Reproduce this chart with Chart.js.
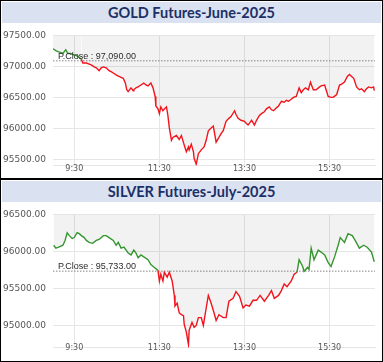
<!DOCTYPE html>
<html>
<head>
<meta charset="utf-8">
<script src="https://cdn.jsdelivr.net/npm/chart.js@4.4.1/dist/chart.umd.min.js"></script>
<style>
  html, body { margin: 0; padding: 0; background: #fff; }
  #wrap { position: absolute; left: 0; top: 0; width: 383px; height: 362px; box-sizing: border-box; border: 1px solid #000; background: #fff; overflow: hidden; }
  .titre { position: absolute; left: 1px; width: 379px; height: 21px; background: #dae1f1; color: #1c2f66;
           font: bold 14.5px Lato, "Open Sans", sans-serif; text-align: center; line-height: 21px; }
  .sep { position: absolute; left: 0; width: 381px; height: 2px; background: #000; }
  .cv { position: absolute; left: 0; width: 381px; }
</style>
</head>
<body>
<div id="wrap">
  <div class="titre" style="top:1px">GOLD Futures-June-2025</div>
  <div class="cv" style="top:22px;height:155px"><canvas id="chartOuro"></canvas></div>
  <div class="sep" style="top:177px"></div>
  <div class="titre" style="top:180px">SILVER Futures-July-2025</div>
  <div class="cv" style="top:201px;height:158px"><canvas id="chartPrata"></canvas></div>
</div>
<script>
// horários em minutos desde 0:00
var tickMinutos = [570, 690, 810, 930];
var tickRotulos = ['9:30', '11:30', '13:30', '15:30'];

// ouro
var ouroTempo = [540, 544, 547, 551, 554, 558, 561, 565, 568, 572, 575, 580, 582, 587, 591, 594, 598, 601, 605, 608,
  611, 615, 619, 622, 626, 630, 633, 636, 639, 642, 644, 646, 650, 653, 654, 657, 660, 664, 668, 671,
  674, 678, 681, 684, 685, 688, 690, 692, 695, 697, 700, 702, 704, 707, 709, 714, 718, 721, 725, 728,
  731, 732, 735, 738, 739, 742, 745, 749, 753, 756, 759, 763, 766, 770, 774, 777, 780, 784, 788, 791,
  796, 798, 801, 805, 810, 812, 815, 820, 824, 827, 831, 834, 838, 841, 845, 848, 851, 855, 858, 862,
  866, 869, 872, 876, 879, 883, 887, 890, 893, 896, 900, 903, 907, 911, 916, 918, 923, 925, 928, 932,
  935, 940, 944, 947, 951, 955, 958, 961, 964, 968, 972, 975, 979, 982, 985, 989, 992, 993];
var ouroPreco = [97285, 97254, 97238, 97223, 97208, 97269, 97208, 97208, 97192, 97177, 97162, 97115, 97054, 97054, 97038, 97023, 96992, 96977, 96931, 96977,
  96992, 96977, 96931, 96915, 96885, 96854, 96838, 96823, 96808, 96731, 96623, 96592, 96654, 96608, 96623, 96654, 96669, 96700, 96731, 96700,
  96685, 96731, 96654, 96515, 96362, 96315, 96238, 96346, 96285, 96315, 96346, 96208, 96008, 95808, 95854, 95885, 95823, 95885, 95731, 95623,
  95700, 95654, 95746, 95623, 95515, 95423, 95592, 95654, 95700, 95808, 95962, 96008, 96038, 95777, 95854, 95915, 95962, 96115, 96162, 96192,
  96285, 96223, 96162, 96131, 96115, 96085, 96054, 96131, 96054, 96131, 96208, 96238, 96269, 96315, 96346, 96300, 96285, 96331, 96362, 96438,
  96423, 96454, 96438, 96469, 96500, 96515, 96654, 96577, 96623, 96654, 96623, 96746, 96623, 96623, 96669, 96685, 96700, 96623, 96515, 96500,
  96500, 96546, 96700, 96715, 96746, 96838, 96869, 96838, 96808, 96669, 96623, 96638, 96592, 96638, 96669, 96654, 96669, 96608];
var ouroFechamento = 97090;
var ouroEixoY = [95400, 97500];
var ouroTicksY = [95500, 96000, 96500, 97000, 97500];

// prata
var prataTempo = [541, 544, 548, 554, 557, 560, 563, 567, 570, 574, 577, 580, 584, 587, 591, 596, 601, 605, 611, 615,
  619, 625, 629, 632, 636, 640, 646, 650, 654, 657, 660, 664, 668, 674, 678, 683, 688, 690, 692, 695,
  697, 701, 704, 708, 711, 712, 715, 718, 721, 724, 725, 728, 731, 732, 736, 739, 742, 745, 749, 752,
  756, 759, 763, 767, 770, 774, 780, 784, 788, 794, 798, 803, 808, 812, 817, 822, 827, 832, 838, 844,
  848, 852, 858, 862, 866, 870, 876, 880, 884, 887, 892, 894, 899, 901, 904, 908, 914, 918, 923, 928,
  932, 937, 942, 945, 951, 956, 962, 966, 972, 978, 983, 989, 993];
var prataPreco = [96083, 96044, 96057, 96083, 96148, 96252, 96213, 96174, 96187, 96252, 96239, 96213, 96187, 96148, 96122, 96109, 96148, 96161, 96213, 96213,
  96187, 96148, 96083, 96122, 96044, 96057, 95978, 95952, 96017, 95978, 95913, 95952, 95926, 95887, 95822, 95783, 95744, 95600, 95691, 95600,
  95718, 95652, 95718, 95600, 95405, 95261, 95300, 95170, 95144, 95131, 95013, 94909, 94740, 94935, 95040, 94974, 95000, 95105, 95105, 95000,
  95235, 95405, 95300, 95170, 95066, 95144, 95105, 95105, 95326, 95366, 95457, 95392, 95235, 95274, 95261, 95339, 95339, 95405, 95326, 95405,
  95470, 95366, 95405, 95470, 95561, 95522, 95600, 95691, 95718, 95887, 95796, 95731, 95783, 95757, 96044, 95887, 96017, 95991, 95952, 95848,
  95796, 95926, 96083, 96187, 96122, 96239, 96213, 96148, 96044, 96083, 96057, 95991, 95861];
var prataFechamento = 95733;
var prataEixoY = [94700, 96500];
var prataTicksY = [95000, 95500, 96000, 96500];

var eixoX = [540, 994];
var verde = '#35962f';
var vermelho = '#f2141c';

// rótulo do fechamento anterior
var rotuloFechamento = {
  id: 'rotuloFechamento',
  afterDatasetsDraw: function(chart, args, opts) {
    var ctx = chart.ctx;
    var y = chart.scales.y.getPixelForValue(opts.valor);
    ctx.save();
    ctx.font = '9px "Liberation Sans", sans-serif';
    ctx.fillStyle = '#2a2a2a';
    ctx.textBaseline = 'bottom';
    var txt = 'P.Close : ' + opts.valor.toLocaleString('en-US', { minimumFractionDigits: 2 });
    ctx.fillText(txt, chart.chartArea.left + 5, y);
    ctx.restore();
  }
};

function plotar(id, tempos, precos, fechamento, eixoY, ticksY, padBaixo, padRotulo) {
  var pontos = tempos.map(function(t, i) { return { x: t, y: precos[i] }; });
  var linhaRef = [{ x: eixoX[0], y: fechamento }, { x: eixoX[1], y: fechamento }];
  var ctx = document.getElementById(id).getContext('2d');
  return new Chart(ctx, {
    type: 'line',
    data: {
      datasets: [{
        data: pontos,
        borderWidth: 1.4,
        pointRadius: 0,
        tension: 0,
        fill: 'end',
        backgroundColor: 'rgba(0,0,0,0.05)',
        borderColor: vermelho,
        segment: {
          borderColor: function(c) {
            return (c.p0.parsed.y + c.p1.parsed.y) / 2 >= fechamento ? verde : vermelho;
          }
        }
      }, {
        data: linhaRef,
        borderWidth: 1,
        borderColor: '#888',
        borderDash: [1.5, 1.5],
        pointRadius: 0,
        fill: false
      }]
    },
    options: {
      responsive: true,
      maintainAspectRatio: false,
      animation: false,
      layout: { padding: { top: 5, right: 7, bottom: padBaixo, left: 0 } },
      plugins: {
        legend: { display: false },
        tooltip: { enabled: false },
        rotuloFechamento: { valor: fechamento }
      },
      scales: {
        x: {
          type: 'linear',
          min: eixoX[0],
          max: eixoX[1],
          afterBuildTicks: function(s) { s.ticks = tickMinutos.map(function(v) { return { value: v }; }); },
          afterFit: function(s) { s.height = 0; },
          ticks: {
            autoSkip: false,
            maxRotation: 0,
            mirror: true,
            padding: padRotulo,
            color: '#555',
            font: { family: '"DejaVu Sans"', size: 8 },
            callback: function(v) { return tickRotulos[tickMinutos.indexOf(v)]; }
          },
          grid: { color: '#e6e6e6', drawTicks: false },
          border: { color: '#e6e6e6' }
        },
        y: {
          min: eixoY[0],
          max: eixoY[1],
          afterBuildTicks: function(s) { s.ticks = ticksY.map(function(v) { return { value: v }; }); },
          afterFit: function(s) { s.width = 52; },
          ticks: {
            padding: 7,
            color: '#555',
            font: { family: '"DejaVu Sans"', size: 9 },
            callback: function(v) { return v.toFixed(2); }
          },
          grid: { color: '#e6e6e6', drawTicks: false },
          border: { display: false }
        }
      }
    },
    plugins: [rotuloFechamento]
  });
}

plotar('chartOuro', ouroTempo, ouroPreco, ouroFechamento, ouroEixoY, ouroTicksY, 7, -8);
plotar('chartPrata', prataTempo, prataPreco, prataFechamento, prataEixoY, prataTicksY, 9, -5);
</script>
</body>
</html>
